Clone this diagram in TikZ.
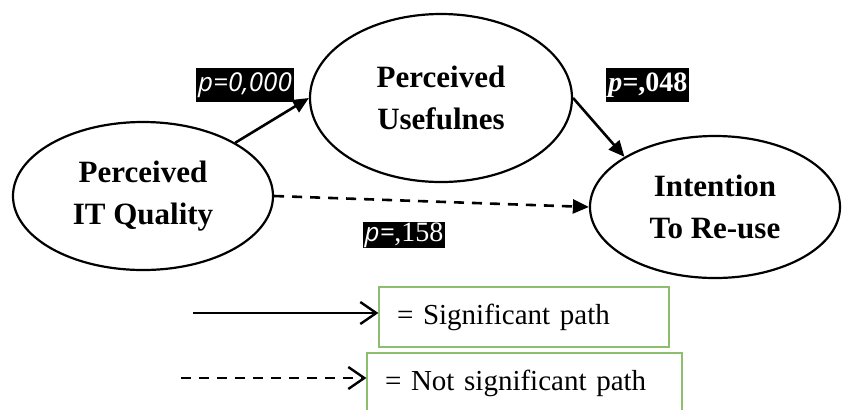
\documentclass[tikz,border=0pt]{standalone}
\usepackage{fontspec}
\usetikzlibrary{shapes.geometric,arrows.meta}
\setmainfont{Liberation Serif}
\newfontfamily\opensans{Open Sans}
\definecolor{keygreen}{RGB}{141,190,110}

\begin{document}
\begin{tikzpicture}[x=0.5pt,y=-0.5pt,
        construct/.style={ellipse, draw, line width=1.1pt, inner sep=0pt, align=center,
                font=\fontsize{15.5}{21}\selectfont\bfseries},
        pval/.style={fill=black, text=white, inner xsep=1pt, inner ysep=0pt},
        effect/.style={line width=1.3pt, -{Triangle[length=8pt,width=7pt]}},
        keybox/.style={draw=keygreen, line width=0.6pt, inner xsep=9pt, minimum height=30pt,
                align=left, font=\fontsize{14.5}{17}\selectfont},
        keyarrow/.style={line width=1.2pt, -{Straight Barb[length=8pt,width=11pt,line width=1.2pt]}}]
        \useasboundingbox (0,0) rectangle (842,409);
        \clip (0,0) rectangle (842,409);
        \node [construct, minimum width=130pt, minimum height=74pt] (IQ) at (143,196) {Perceived\\IT Quality};
        \node [construct, minimum width=131pt, minimum height=84pt] (PU) at (441,98) {Perceived\\Usefulnes};
        \node [construct, minimum width=125pt, minimum height=71pt] (IR) at (715,207) {Intention\\To Re-use};
        \draw [effect] (IQ.30) -- (PU.west);
        \draw [effect] (PU.east) -- (IR.151);
        \draw [effect, dash pattern=on 5pt off 4pt] (IQ.east) -- (IR.west);
        \node [pval, minimum height=17pt, font=\opensans\itshape\fontsize{13}{15}\selectfont] (P1) at (245,85) {p=0,000};
        \node [pval, minimum height=17pt, anchor=west, font=\fontsize{14}{15}\selectfont\bfseries] (P2) at (606,85) {\itshape p=\upshape,048};
        \node [pval, minimum height=13pt, font=\fontsize{14}{15}\selectfont] (P3) at (404,235) {{\opensans\itshape\fontsize{13}{15}\selectfont p=},158};
        % legend
        \node [keybox, text width=127pt] (SIG) at (524,317) {= Significant path};
        \node [keybox, text width=139.5pt] (NSIG) at (524.5,383) {= Not significant path};
        \coordinate (SIGtail) at (193,313);
        \coordinate (NSIGtail) at (181,378);
        \draw [keyarrow] (SIGtail) -- (SIGtail -| SIG.west);
        \draw [keyarrow, dash pattern=on 5pt off 4pt] (NSIGtail) -- (NSIGtail -| NSIG.west);
\end{tikzpicture}
\end{document}
